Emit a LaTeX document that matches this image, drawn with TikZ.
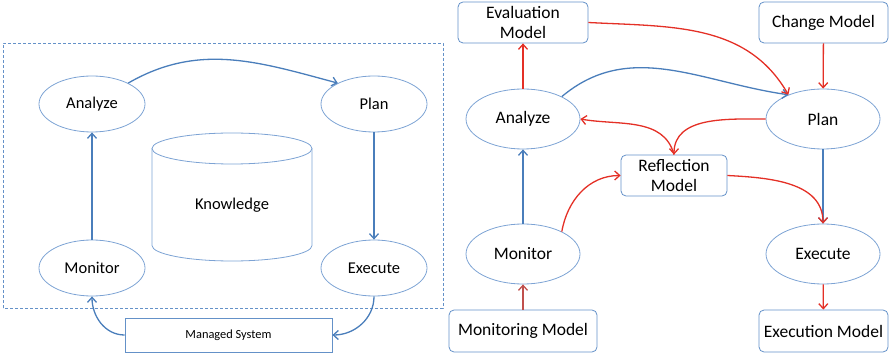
\documentclass[tikz,border=0pt]{standalone}
\usepackage{fontspec}
\setmainfont{Carlito}
\usetikzlibrary{shapes.geometric,arrows.meta}
\definecolor{lineblue}{RGB}{74,126,187}
\definecolor{rimblue}{RGB}{125,163,212}
\definecolor{boxblue}{RGB}{100,145,200}
\definecolor{flowred}{RGB}{228,48,38}
\definecolor{darkred}{RGB}{192,80,77}
\tikzstyle{stage}=[ellipse,draw=rimblue,line width=0.8pt,minimum width=106pt,minimum height=56pt,inner sep=0pt,font=\fontsize{16.5}{20}\selectfont]
\tikzstyle{bigstage}=[stage,minimum width=114pt,minimum height=60pt,font=\fontsize{17.5}{20}\selectfont]
\tikzstyle{model}=[rectangle,rounded corners=5pt,draw=boxblue,line width=0.8pt,inner sep=0pt,align=center,font=\fontsize{17.5}{20}\selectfont]
\tikzstyle{loop}=[-{Straight Barb[length=5pt,width=9pt]},lineblue,line width=1.3pt]
\tikzstyle{meta}=[-{Straight Barb[length=5pt,width=9pt]},flowred,line width=1.3pt]

\begin{document}
\begin{tikzpicture}[x=1pt,y=1pt]
\useasboundingbox (0,0) rectangle (890,356);
% managed side (left)
\draw[boxblue,densely dashed,line width=0.6pt] (3,48) rectangle (443,313);
\node[stage] at (92, 252) (a) {Analyze};
\node[stage] at (374, 252) (p) {Plan};
\node[stage] at (92, 88) (m) {Monitor};
\node[stage] at (374, 88) (e) {Execute};
\node[font=\fontsize{16.5}{20}\selectfont] at (232, 151) (k) {Knowledge};
\draw[rimblue,line width=0.8pt] (152,207.5) -- (152,110.5) arc[start angle=180,end angle=360,x radius=80,y radius=15.5] -- (312,207.5);
\draw[rimblue,line width=0.8pt] (232,207.5) ellipse [x radius=80,y radius=15.5];
\node[rectangle,draw=boxblue,line width=0.8pt,minimum width=207pt,minimum height=34pt,font=\fontsize{12.4}{14}\selectfont] at (228.5, 21) (ms) {Managed System};
\draw[loop] (m) -- (a);
\draw[loop] (a.30) to[out=30,in=165] (p.150);
\draw[loop] (p) -- (e);
\draw[loop] (e.south) to[out=-90,in=0] (ms.east);
\draw[loop] (ms.west) to[out=180,in=-90] (m.south);

% meta level (right)
\node[model,minimum width=130pt,minimum height=41pt] at (523, 333.5) (ev) {Evaluation\\Model};
\node[model,minimum width=129pt,minimum height=41pt] at (823.5, 333.5) (ch) {Change Model};
\node[bigstage] at (523, 237) (a2) {Analyze};
\node[bigstage] at (823, 237) (p2) {Plan};
\node[model,minimum width=106pt,minimum height=41pt] at (674, 180.5) (rf) {Reflection\\Model};
\node[bigstage] at (523, 102) (m2) {Monitor};
\node[bigstage] at (823, 102) (e2) {Execute};
\node[model,minimum width=148pt,minimum height=42pt] at (523, 25) (mm) {Monitoring Model};
\node[model,minimum width=129pt,minimum height=42pt] at (823.5, 25) (ex) {Execution Model};
\draw[loop] (m2) -- (a2);
\draw[loop] (a2.30) to[out=40,in=172] (p2.145);
\draw[loop] (p2) -- (e2);
\draw[meta] (a2) -- (ev);
\draw[meta] (ev.east) to[out=-3,in=120] (p2.145);
\draw[meta] (ch) -- (p2);
\draw[meta] (p2.west) to[out=180,in=90] (rf.north);
\draw[meta] (rf.north) to[out=105,in=-10] (a2.east);
\draw[meta] (m2.30) to[out=80,in=180] (rf.west);
\draw[meta] (rf.east) to[out=-3,in=90] (e2.north);
\draw[meta,darkred] (mm) -- (m2);
\draw[meta] (e2) -- (ex);
\end{tikzpicture}
\end{document}
